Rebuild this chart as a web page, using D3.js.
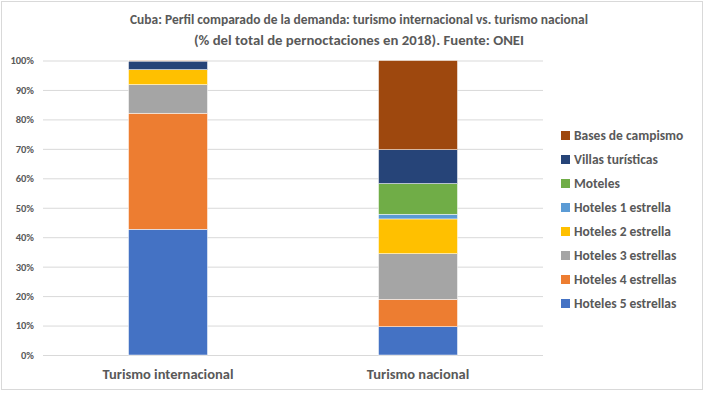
<!DOCTYPE html>
<html>
<head>
<meta charset="UTF-8">
<title>Cuba: Perfil comparado de la demanda</title>
<script src="https://d3js.org/d3.v7.min.js"></script>
<style>
  body { margin: 0; background: #fff; }
  svg { display: block; font-family: Calibri, Carlito, "Open Sans", sans-serif; }
</style>
</head>
<body>
<svg width="708" height="393"></svg>
<script>
// categorias (eje x)
var categorias = ['Turismo internacional', 'Turismo nacional'];
// series, de abajo hacia arriba
var series = ['Hoteles 5 estrellas', 'Hoteles 4 estrellas', 'Hoteles 3 estrellas', 'Hoteles 2 estrella',
              'Hoteles 1 estrella', 'Moteles', 'Villas turísticas', 'Bases de campismo'];
// % de pernoctaciones por serie
var internacional = [42.7, 39.4, 9.7, 5.1, 0, 0, 2.9, 0.2];
var nacional = [9.6, 9.3, 15.5, 11.8, 1.6, 10.4, 11.5, 30.3];
var yTicks = [0, 10, 20, 30, 40, 50, 60, 70, 80, 90, 100];
var colores = ['#4472C4', '#ED7D31', '#A5A5A5', '#FFC000', '#5B9BD5', '#70AD47', '#264478', '#9E480E'];

var svg = d3.select('svg');
var margin = { top: 60.5, bottom: 355, left: 43, right: 543 };

// borde del grafico
svg.append('rect')
  .attr('x', 1.5).attr('y', 1.5)
  .attr('width', 701).attr('height', 388)
  .attr('fill', 'none').attr('stroke', '#d9d9d9');

// titulo
var titulo = svg.append('text')
  .attr('text-anchor', 'middle')
  .attr('fill', '#595959')
  .attr('font-size', '14.5px')
  .attr('font-weight', 'bold');
titulo.append('tspan').attr('x', 359).attr('y', 24)
  .attr('textLength', 458).attr('lengthAdjust', 'spacingAndGlyphs')
  .text('Cuba: Perfil comparado de la demanda: turismo internacional vs. turismo nacional');
titulo.append('tspan').attr('x', 359).attr('y', 45)
  .attr('textLength', 330).attr('lengthAdjust', 'spacingAndGlyphs')
  .text('(% del total de pernoctaciones en 2018). Fuente: ONEI');

var x = d3.scalePoint().domain(categorias).range([margin.left, margin.right]).padding(0.5);
var y = d3.scaleLinear().domain([0, 100]).range([margin.bottom, margin.top]);

// eje y + rejilla
var yAxis = svg.append('g')
  .attr('transform', 'translate(' + margin.left + ',0)')
  .call(d3.axisLeft(y).tickValues(yTicks).tickSize(-(margin.right - margin.left)).tickPadding(9)
    .tickFormat(function(d) { return d + '%'; }));
yAxis.select('.domain').remove();
yAxis.selectAll('line').attr('stroke', '#d9d9d9').attr('stroke-width', 1);
yAxis.selectAll('text').attr('fill', '#595959').attr('font-size', '10.5px')
  .attr('font-weight', 'bold').attr('font-family', 'Calibri, Carlito, "Open Sans", sans-serif');

// apilado
var tabla = categorias.map(function(c, i) {
  var fila = { cat: c };
  var vals = i === 0 ? internacional : nacional;
  series.forEach(function(s, j) { fila[s] = vals[j]; });
  return fila;
});
var stack = d3.stack().keys(series)(tabla);
var barW = 79;

svg.append('g').selectAll('g')
  .data(stack)
  .join('g')
  .attr('fill', function(d, i) { return colores[i]; })
  .selectAll('rect')
  .data(function(d) { return d; })
  .join('rect')
  .attr('x', function(d) { return x(d.data.cat) - barW / 2; })
  .attr('y', function(d) { return y(d[1]); })
  .attr('width', barW)
  .attr('height', function(d) { return Math.max(0, y(d[0]) - y(d[1])); })
  .attr('stroke', '#fff')
  .attr('stroke-width', 0.5);

// etiquetas eje x
svg.append('g').selectAll('text')
  .data(categorias)
  .join('text')
  .attr('x', function(d) { return x(d); })
  .attr('y', 379)
  .attr('text-anchor', 'middle')
  .attr('fill', '#595959')
  .attr('font-size', '14.5px')
  .attr('font-weight', 'bold')
  .text(function(d) { return d; });

// leyenda (de arriba hacia abajo)
var leyenda = svg.append('g').selectAll('g')
  .data(series.slice().reverse())
  .join('g')
  .attr('transform', function(d, i) { return 'translate(561,' + (135.5 + i * 24) + ')'; });
leyenda.append('rect')
  .attr('x', 0).attr('y', -4.5).attr('width', 9).attr('height', 9)
  .attr('fill', function(d) { return colores[series.indexOf(d)]; });
leyenda.append('text')
  .attr('x', 13).attr('dy', '0.35em')
  .attr('fill', '#595959')
  .attr('font-size', '13.5px')
  .attr('font-weight', 'bold')
  .text(function(d) { return d; });
</script>
</body>
</html>
